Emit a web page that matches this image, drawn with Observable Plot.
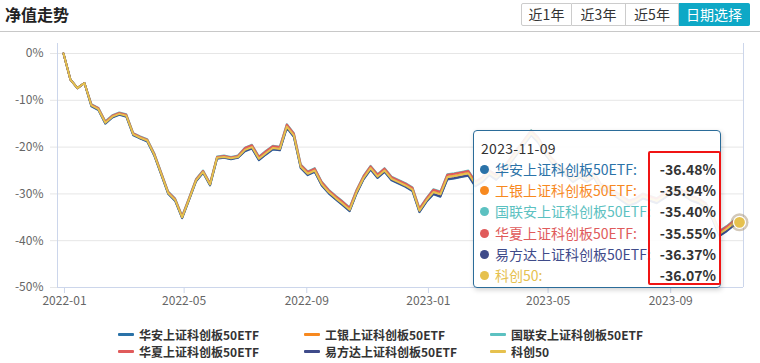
<!DOCTYPE html>
<html>
<head>
<meta charset="utf-8">
<script src="https://cdn.jsdelivr.net/npm/d3@7"></script>
<script src="https://cdn.jsdelivr.net/npm/@observablehq/plot@0.6"></script>
<style>
  html, body { margin: 0; padding: 0; background: #fff; }
  body { width: 760px; height: 363px; position: relative; overflow: hidden;
         font-family: "Noto Sans CJK SC", "Noto Sans", sans-serif; }
  #title { position: absolute; left: 5px; top: 4px; font-size: 16px; font-weight: bold; color: #222; line-height: 20px; }
  #hline { position: absolute; left: 0; top: 31px; width: 760px; height: 1px; background: #c8c8c8; }
  #btns { position: absolute; left: 521px; top: 3px; display: flex; height: 22px; }
  #btns div { box-sizing: border-box; height: 23px; line-height: 21px; font-size: 14px; color: #333; text-align: center;
              border: 1px solid #ccc; border-left: none; background: #fff; }
  #btns div:first-child { border-left: 1px solid #ccc; border-radius: 2px 0 0 2px; }
  #btns div.active { background: #0ea8c6; color: #fff; border-color: #0ea8c6; border-radius: 0 2px 2px 0; }
  #chart { position: absolute; left: 0; top: 32px; }
  #tip { position: absolute; left: 473px; top: 130px; width: 248px; height: 158px; box-sizing: border-box;
         border: 1px solid #2b6c99; border-radius: 4px; background: rgba(255,255,255,0.9);
         box-shadow: 1px 2px 5px rgba(0,0,0,0.18); font-size: 14px; color: #333; }
  #tip .date { position: absolute; left: 7px; top: 6px; line-height: 22px; letter-spacing: 0.3px; }
  #tip .row { position: absolute; left: 0; width: 246px; height: 21px; line-height: 21px; }
  #tip .dot { position: absolute; left: 6px; top: 6px; width: 9px; height: 9px; border-radius: 50%; }
  #tip .lab { position: absolute; left: 21px; white-space: nowrap; }
  #tip .val { position: absolute; right: 4px; font-weight: bold; color: #333; }
  #redbox { position: absolute; left: 648px; top: 151px; width: 73px; height: 134px; box-sizing: border-box;
            border: 2.5px solid #f01414; border-radius: 2px; }
  #legend { position: absolute; left: 118px; top: 326px; display: grid; grid-template-columns: 186px 186px 186px;
            grid-auto-rows: 17px; font-size: 12px; font-weight: bold; color: #333; }
  #legend .it { display: flex; align-items: center; white-space: nowrap; }
  #legend .sw { width: 16px; height: 3px; margin-right: 5px; border-radius: 1px; }
</style>
</head>
<body>
<div id="title">净值走势</div>
<div id="hline"></div>
<div id="btns"></div>
<div id="chart"></div>
<div id="tip"></div>
<div id="redbox"></div>
<div id="legend"></div>
<script>
// ---------- data ----------
const seriesNames = ["华安上证科创板50ETF", "工银上证科创板50ETF", "国联安上证科创板50ETF", "华夏上证科创板50ETF", "易方达上证科创板50ETF", "科创50"];
const seriesColors = ["#2a72a8", "#f7891f", "#5cc1c1", "#e05b5b", "#3f4b8a", "#e6c14e"];
const buttonLabels = ["近1年", "近3年", "近5年", "日期选择"];
const tipDate = "2023-11-09";
const firstWeek = "2021-12-31";   // weekly points, last one on tipDate
const yTicks = [0, -10, -20, -30, -40, -50];
const xTickLabels = ["2022-01", "2022-05", "2022-09", "2023-01", "2023-05", "2023-09"];
const xDomain = ["2021-12-25", "2023-11-13"];

// cumulative return (%)
const huaan = [0,-5.6,-7.4,-6.3,-11.3,-12.1,-15.0,-13.7,-13.1,-13.5,-17.5,-18.2,-18.8,-21.8,-25.9,-30.0,-31.5,-35.2,-31.3,-27.3,-25.5,-28.2,-22.5,-22.3,-22.6,-22.3,
  -20.9,-20.3,-22.8,-21.6,-20.5,-20.7,-15.9,-17.8,-24.5,-26.0,-25.3,-28.2,-29.9,-31.2,-32.4,-33.7,-29.9,-26.9,-24.8,-26.6,-25.3,-27.1,-27.8,-28.5,-29.4,-33.9,-31.7,
  -30.1,-30.6,-26.9,-26.7,-26.4,-26.1,-28.4,-27.5,-26.0,-27.0,-25.5,-23.5,-21.5,-19.5,-17.5,-19.0,-21.5,-23.5,-25.0,-26.0,-27.5,-26.5,-27.5,-26.5,-29.0,-29.5,
  -30.5,-31.5,-32.5,-32.0,-31.0,-31.5,-32.0,-31.0,-30.0,-29.8,-30.5,-31.5,-32.0,-33.0,-35.5,-39.0,-38.0,-36.8,-36.48];
const gongyin = [0,-5.6,-7.4,-6.3,-11.0,-11.8,-14.7,-13.4,-12.8,-13.2,-17.2,-17.9,-18.5,-21.5,-25.6,-29.7,-31.2,-34.9,-31.0,-27.0,-25.2,-27.9,-22.2,-22.0,-22.3,-22.0,
  -20.5,-19.9,-22.4,-21.2,-20.1,-20.3,-15.5,-17.4,-24.1,-25.6,-24.9,-27.8,-29.5,-30.8,-32.0,-33.3,-29.5,-26.5,-24.4,-26.2,-24.9,-26.7,-27.4,-28.1,-29.0,-33.5,-31.3,
  -29.5,-30.0,-26.3,-26.1,-25.8,-25.5,-27.8,-26.9,-25.4,-26.4,-24.9,-22.9,-20.9,-18.9,-16.9,-18.4,-20.9,-22.9,-24.4,-25.4,-26.9,-25.9,-26.9,-25.9,-28.4,-28.9,
  -29.9,-30.9,-31.9,-31.4,-30.4,-30.9,-31.4,-30.4,-29.4,-29.2,-29.9,-30.9,-31.4,-32.4,-34.9,-38.4,-37.4,-36.2,-35.94];
const guolianan = [0,-5.6,-7.4,-6.3,-10.8,-11.6,-14.5,-13.2,-12.6,-13.0,-17.0,-17.7,-18.3,-21.3,-25.4,-29.5,-31.0,-34.7,-30.8,-26.8,-25.0,-27.7,-22.0,-21.8,-22.1,-21.8,
  -20.1,-19.5,-22.0,-20.8,-19.7,-19.9,-15.1,-17.0,-23.7,-25.2,-24.5,-27.4,-29.1,-30.4,-31.6,-32.9,-29.1,-26.1,-24.0,-25.8,-24.5,-26.3,-27.0,-27.7,-28.6,-33.1,-30.9,
  -29.0,-29.5,-25.8,-25.6,-25.3,-25.0,-27.3,-26.4,-24.9,-25.9,-24.4,-22.4,-20.4,-18.4,-16.4,-17.9,-20.4,-22.4,-23.9,-24.9,-26.4,-25.4,-26.4,-25.4,-27.9,-28.4,
  -29.4,-30.4,-31.4,-30.9,-29.9,-30.4,-30.9,-29.9,-28.9,-28.7,-29.4,-30.4,-30.9,-31.9,-34.4,-37.9,-36.9,-35.7,-35.40];
const huaxia = [0,-5.6,-7.4,-6.3,-10.9,-11.7,-14.6,-13.3,-12.7,-13.1,-17.1,-17.8,-18.4,-21.4,-25.5,-29.6,-31.1,-34.8,-30.9,-26.9,-25.1,-27.8,-22.1,-21.9,-22.2,-21.9,
  -20.2,-19.6,-22.1,-20.9,-19.8,-20.0,-15.2,-17.1,-23.8,-25.3,-24.6,-27.5,-29.2,-30.5,-31.7,-33.0,-29.2,-26.2,-24.1,-25.9,-24.6,-26.4,-27.1,-27.8,-28.7,-33.2,-31.0,
  -29.1,-29.6,-25.9,-25.7,-25.4,-25.1,-27.4,-26.5,-25.0,-26.0,-24.5,-22.5,-20.5,-18.5,-16.5,-18.0,-20.5,-22.5,-24.0,-25.0,-26.5,-25.5,-26.5,-25.5,-28.0,-28.5,
  -29.5,-30.5,-31.5,-31.0,-30.0,-30.5,-31.0,-30.0,-29.0,-28.8,-29.5,-30.5,-31.0,-32.0,-34.5,-38.0,-37.0,-35.8,-35.55];
const yifangda = [0,-5.6,-7.4,-6.3,-11.2,-12.0,-14.9,-13.6,-13.0,-13.4,-17.4,-18.1,-18.7,-21.7,-25.8,-29.9,-31.4,-35.1,-31.2,-27.2,-25.4,-28.1,-22.4,-22.2,-22.5,-22.2,
  -20.8,-20.2,-22.7,-21.5,-20.4,-20.6,-15.8,-17.7,-24.4,-25.9,-25.2,-28.1,-29.8,-31.1,-32.3,-33.6,-29.8,-26.8,-24.7,-26.5,-25.2,-27.0,-27.7,-28.4,-29.3,-33.8,-31.6,
  -30.0,-30.5,-26.8,-26.6,-26.3,-26.0,-28.3,-27.4,-25.9,-26.9,-25.4,-23.4,-21.4,-19.4,-17.4,-18.9,-21.4,-23.4,-24.9,-25.9,-27.4,-26.4,-27.4,-26.4,-28.9,-29.4,
  -30.4,-31.4,-32.4,-31.9,-30.9,-31.4,-31.9,-30.9,-29.9,-29.7,-30.4,-31.4,-31.9,-32.9,-35.4,-38.9,-37.9,-36.7,-36.37];
const kechuang50 = [0,-5.6,-7.4,-6.3,-11.1,-11.9,-14.8,-13.5,-12.9,-13.3,-17.3,-18.0,-18.6,-21.6,-25.7,-29.8,-31.3,-35.0,-31.1,-27.1,-25.3,-28.0,-22.3,-22.1,-22.4,-22.1,
  -20.6,-20.0,-22.5,-21.3,-20.2,-20.4,-15.6,-17.5,-24.2,-25.7,-25.0,-27.9,-29.6,-30.9,-32.1,-33.4,-29.6,-26.6,-24.5,-26.3,-25.0,-26.8,-27.5,-28.2,-29.1,-33.6,-31.4,
  -29.6,-30.1,-26.4,-26.2,-25.9,-25.6,-27.9,-27.0,-25.5,-26.5,-25.0,-23.0,-21.0,-19.0,-17.0,-18.5,-21.0,-23.0,-24.5,-25.5,-27.0,-26.0,-27.0,-26.0,-28.5,-29.0,
  -30.0,-31.0,-32.0,-31.5,-30.5,-31.0,-31.5,-30.5,-29.5,-29.3,-30.0,-31.0,-31.5,-32.5,-35.0,-38.5,-37.5,-36.3,-36.07];
const seriesValues = [huaan, gongyin, guolianan, huaxia, yifangda, kechuang50];

// ---------- build ----------
const parse = d3.utcParse("%Y-%m-%d");
const n = kechuang50.length;
const dates = [];
for (let i = 0; i < n - 1; i++) dates.push(d3.utcDay.offset(parse(firstWeek), 7 * i));
dates.push(parse(tipDate));

const rows = [];
seriesNames.forEach((name, k) => seriesValues[k].forEach((v, i) => rows.push({name, date: dates[i], v})));
const lastK = {name: seriesNames[5], date: dates[n - 1], v: kechuang50[n - 1]};
const xd = xDomain.map(parse);
const xTicks = xTickLabels.map(s => d3.utcParse("%Y-%m")(s));
const fmtPct = d => `${d}%`;

const chart = Plot.plot({
  width: 760, height: 285,
  marginLeft: 57, marginRight: 17, marginTop: 11, marginBottom: 30, insetTop: 10,
  style: {fontFamily: '"Noto Sans CJK SC", sans-serif', fontSize: "12px", color: "#666", background: "transparent", overflow: "visible"},
  x: {type: "utc", domain: xd, label: null},
  y: {domain: [-50, 0], label: null},
  color: {domain: seriesNames, range: seriesColors},
  marks: [
    Plot.gridY(yTicks, {stroke: "#e6e6e6", strokeOpacity: 1}),
    Plot.ruleY([-50], {stroke: "#ccd6eb"}),
    Plot.ruleX([xd[0]], {stroke: "#ccd6eb"}),
    Plot.ruleX([xd[1]], {stroke: "#ccd6eb"}),
    Plot.axisY(yTicks, {label: null, tickSize: 7, tickPadding: 7, stroke: "#e6e6e6", strokeOpacity: 1, fill: "#666", tickFormat: fmtPct}),
    Plot.axisX(xTicks, {label: null, tickSize: 6, tickPadding: 3, stroke: "#ccd6eb", strokeOpacity: 1, fill: "#666", tickFormat: d3.utcFormat("%Y-%m")}),
    Plot.line(rows, {x: "date", y: "v", z: "name", stroke: "name", strokeWidth: 2}),
    Plot.dot([lastK], {x: "date", y: "v", r: 9, fill: "#9c8464", fillOpacity: 0.45}),
    Plot.dot([lastK], {x: "date", y: "v", r: 6, fill: seriesColors[5], stroke: "#fff", strokeWidth: 1.2})
  ]
});
document.getElementById("chart").appendChild(chart);

// buttons
const btnW = [51, 54, 53, 71];
const btns = document.getElementById("btns");
buttonLabels.forEach((b, i) => {
  const d = document.createElement("div");
  d.textContent = b; d.style.width = btnW[i] + "px";
  if (i === buttonLabels.length - 1) d.className = "active";
  btns.appendChild(d);
});

// tooltip
const tip = document.getElementById("tip");
let html = `<div class="date">${tipDate}</div>`;
seriesNames.forEach((name, k) => {
  const v = seriesValues[k][n - 1];
  const top = 28 + k * 21.2;
  html += `<div class="row" style="top:${top}px"><span class="dot" style="background:${seriesColors[k]}"></span>` +
          `<span class="lab" style="color:${seriesColors[k]}">${name}:</span>` +
          `<span class="val">${v.toFixed(2)}%</span></div>`;
});
tip.innerHTML = html;

// legend
const lg = document.getElementById("legend");
seriesNames.forEach((name, k) => {
  const it = document.createElement("div");
  it.className = "it";
  it.innerHTML = `<span class="sw" style="background:${seriesColors[k]}"></span><span>${name}</span>`;
  lg.appendChild(it);
});
</script>
</body>
</html>
